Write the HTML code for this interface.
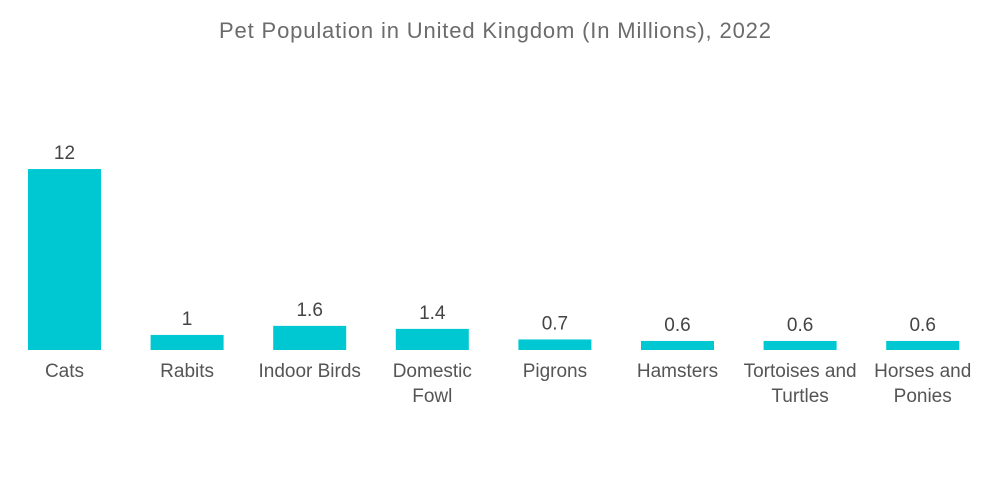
<!DOCTYPE html>
<html><head><meta charset="utf-8"><style>
body{margin:0;background:#fff;}
svg{display:block;font-family:"Liberation Sans",sans-serif;}
</style></head><body>
<svg id="chart" width="1000" height="504">
<text x="495" y="38" text-anchor="middle" font-size="22" textLength="552" lengthAdjust="spacing" fill="#6b6b6b">Pet Population in United Kingdom (In Millions), 2022</text>
<g id="bars"></g>
</svg>
<script>
const categories=[["Cats"],["Rabits"],["Indoor Birds"],["Domestic","Fowl"],["Pigrons"],["Hamsters"],["Tortoises and","Turtles"],["Horses and","Ponies"]];
const values=[12,1,1.6,1.4,0.7,0.6,0.6,0.6];
const labels=["12","1","1.6","1.4","0.7","0.6","0.6","0.6"];
const baseY=350, pxPerUnit=15.08, x0=28, step=122.6, bw=73;
function xPos(i){return x0+i*step;}
function yPos(v){return baseY-v*pxPerUnit;}
const g=document.getElementById('bars');
const NS="http://www.w3.org/2000/svg";
values.forEach((v,i)=>{
  const r=document.createElementNS(NS,'rect');
  r.setAttribute('x',xPos(i));r.setAttribute('y',yPos(v));
  r.setAttribute('width',bw);r.setAttribute('height',baseY-yPos(v));
  r.setAttribute('fill','#00c8d2');
  
  
  g.appendChild(r);
  const t=document.createElementNS(NS,'text');
  t.setAttribute('x',xPos(i)+bw/2);t.setAttribute('y',yPos(v)-10);
  t.setAttribute('text-anchor','middle');t.setAttribute('font-size','19');t.setAttribute('fill','#444');
  t.textContent=labels[i];
  
  
  g.appendChild(t);
  categories[i].forEach((line,j)=>{
    const c=document.createElementNS(NS,'text');
    c.setAttribute('x',xPos(i)+bw/2);c.setAttribute('y',377+j*25);
    c.setAttribute('text-anchor','middle');c.setAttribute('font-size','19');c.setAttribute('fill','#555');
    c.textContent=line;
    
    
    g.appendChild(c);
  });
});
</script>
</body></html>
